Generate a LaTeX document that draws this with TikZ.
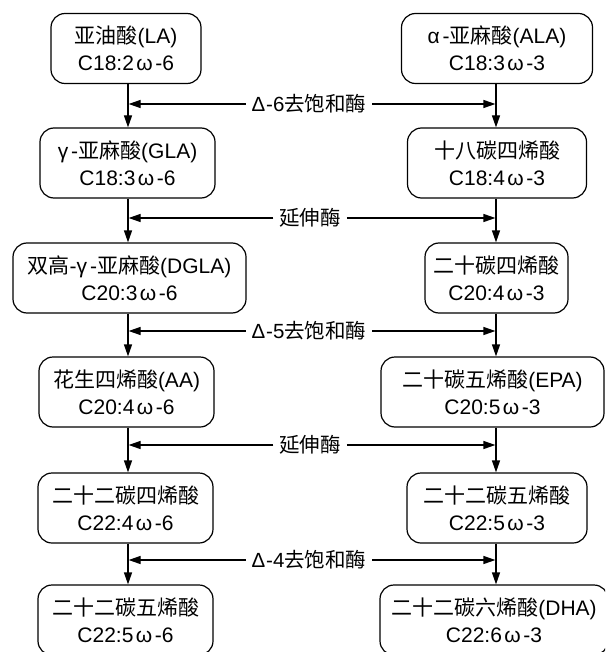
\documentclass[tikz,border=0pt]{standalone}
\usepackage{fontspec}
\setmainfont{Liberation Sans}
\newfontfamily\cjkf{Noto Sans CJK SC}
\newcommand{\zh}[1]{{\cjkf #1}}
\newcommand{\om}{\kern2.5pt ω\kern2.5pt}
\usetikzlibrary{arrows.meta}
\tikzset{
  box/.style={draw, line width=1.2pt, rounded corners=14pt, minimum height=70pt,
    align=center, inner sep=0pt, font=\fontsize{21}{27}\selectfont},
  arr/.style={line width=1.2pt, -{Triangle[length=12pt,width=8pt]}},
  enz/.style={inner sep=0pt, outer sep=6pt, font=\fontsize{20.5}{22}\selectfont},
}
\begin{document}
\begin{tikzpicture}[x=1pt,y=-1pt]
\useasboundingbox (0,0) rectangle (605,652);
\clip (0,0) rectangle (605,652);
% left column
\node[box, minimum width=150pt] (L1) at (126,48.5) {\zh{亚油酸}(LA)\\C18:2\om-6};
\node[box, minimum width=175pt] (L2) at (127.5,163) {γ\kern3pt-\zh{亚麻酸}(GLA)\\C18:3\om-6};
\node[box, minimum width=233pt] (L3) at (129.5,278) {\zh{双高}-γ\kern3pt-\zh{亚麻酸}(DGLA)\\C20:3\om-6};
\node[box, minimum width=175pt] (L4) at (126.5,392) {\zh{花生四烯酸}(AA)\\C20:4\om-6};
\node[box, minimum width=175pt] (L5) at (125.5,508) {\zh{二十二碳四烯酸}\\C22:4\om-6};
\node[box, minimum width=175pt] (L6) at (125.5,620) {\zh{二十二碳五烯酸}\\C22:5\om-6};
% right column
\node[box, minimum width=191pt] (R1) at (497,48.5) {α\kern3pt-\zh{亚麻酸}(ALA)\\C18:3\om-3};
\node[box, minimum width=179pt] (R2) at (497,163) {\zh{十八碳四烯酸}\\C18:4\om-3};
\node[box, minimum width=143pt] (R3) at (496.5,278) {\zh{二十碳四烯酸}\\C20:4\om-3};
\node[box, minimum width=223pt] (R4) at (492.5,392) {\zh{二十碳五烯酸}(EPA)\\C20:5\om-3};
\node[box, minimum width=180pt] (R5) at (497,508) {\zh{二十二碳五烯酸}\\C22:5\om-3};
\node[box, minimum width=228pt] (R6) at (494,620) {\zh{二十二碳六烯酸}(DHA)\\C22:6\om-3};
% enzyme labels
\node[enz] (E1) at (309,104) {Δ\kern1pt-6\zh{去饱和酶}};
\node[enz] (E2) at (310,218) {\zh{延伸酶}};
\node[enz] (E3) at (309,331) {Δ\kern1pt-5\zh{去饱和酶}};
\node[enz] (E4) at (310,445) {\zh{延伸酶}};
\node[enz] (E5) at (309,560) {Δ\kern1pt-4\zh{去饱和酶}};
% vertical arrows
\foreach \a/\b in {L1/L2,L2/L3,L3/L4,L4/L5,L5/L6} {
  \draw[arr] (\a.south -| 128,0) -- (\b.north -| 128,0);
}
\foreach \a/\b in {R1/R2,R2/R3,R3/R4,R4/R5,R5/R6} {
  \draw[arr] (\a.south -| 496,0) -- (\b.north -| 496,0);
}
% horizontal arrows
\foreach \e in {E1,E2,E3,E4,E5} {
  \draw[arr] (\e.west) -- (128.6,0 |- \e.west);
  \draw[arr] (\e.east) -- (495.4,0 |- \e.east);
}
\end{tikzpicture}
\end{document}
